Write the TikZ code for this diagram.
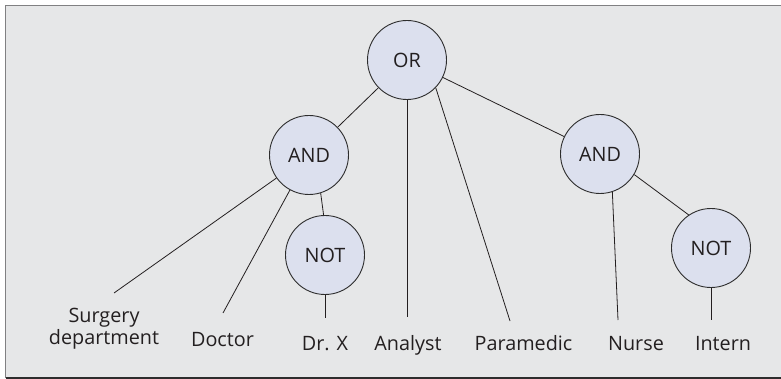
\documentclass[tikz,border=0pt]{standalone}
\usepackage{fontspec}
\setmainfont{Open Sans}
\usepackage{tikz}
\definecolor{gatecolor}{RGB}{220, 224, 238}
\definecolor{gateborder}{RGB}{45, 45, 45}
\definecolor{panelcolor}{RGB}{230, 231, 232}
\definecolor{paneledge}{RGB}{128, 128, 130}
\definecolor{inkcolor}{RGB}{35, 31, 32}
\tikzstyle{gate} = [circle, minimum size=79pt, inner sep=0pt, draw=gateborder, fill=gatecolor,
                    line width=0.9pt, text=inkcolor, font=\fontsize{19.8}{22}\selectfont]
\tikzstyle{leaf} = [align=center, inner sep=0pt, text=inkcolor, font=\fontsize{19.8}{22}\selectfont]
\tikzstyle{link} = [draw=inkcolor, line width=0.8pt]

\begin{document}
\begin{tikzpicture}[x=1pt, y=-1pt]
    % Panel
    \useasboundingbox (0,0) rectangle (781,379);
    \fill[panelcolor] (5.5,5.5) rectangle (781,378);
    \draw[paneledge, line width=1.6pt] (5.5,378) -- (5.5,5.5) -- (781,5.5);
    \draw[gateborder, line width=1.4pt] (5.5,378) -- (781,378);

    % Gates
    \node[gate] (or) at (407,60) {OR};
    \node[gate] (andL) at (309,155) {AND};
    \node[gate] (andR) at (600,154) {AND};
    \node[gate] (notL) at (325,255) {NOT};
    \node[gate] (notR) at (711,248) {NOT};

    % Leaves
    \node[leaf, anchor=base] (surgery) at (104,344) {Surgery\\department};
    \node[leaf, anchor=base] (doctor) at (222.5,346) {Doctor};
    \node[leaf, anchor=base] (drx) at (325,350) {Dr. X};
    \node[leaf, anchor=base] (analyst) at (408,350) {Analyst};
    \node[leaf, anchor=base] (paramedic) at (523.5,350) {Paramedic};
    \node[leaf, anchor=base] (nurse) at (636,350) {Nurse};
    \node[leaf, anchor=base] (intern) at (723,350) {Intern};

    % Free ends above the leaves
    \coordinate (eSurgery) at (114,293);
    \coordinate (eDoctor) at (223,313);
    \coordinate (eDrx) at (325,318);
    \coordinate (eAnalyst) at (407,317);
    \coordinate (eParamedic) at (510,321);
    \coordinate (eNurse) at (618,320);
    \coordinate (eIntern) at (711,320);

    % Links
    \draw[link] (or) -- (andL);
    \draw[link] (or) -- (andR);
    \draw[link] (or) -- (eAnalyst);
    \draw[link] (or.-44) -- (eParamedic);
    \draw[link] (andL) -- (eSurgery);
    \draw[link] (andL) -- (eDoctor);
    \draw[link] (andL.-73) -- (notL.92);
    \draw[link] (notL) -- (eDrx);
    \draw[link] (andR.-72) -- (eNurse);
    \draw[link] (andR.-31) -- (notR.124);
    \draw[link] (notR) -- (eIntern);
\end{tikzpicture}
\end{document}
